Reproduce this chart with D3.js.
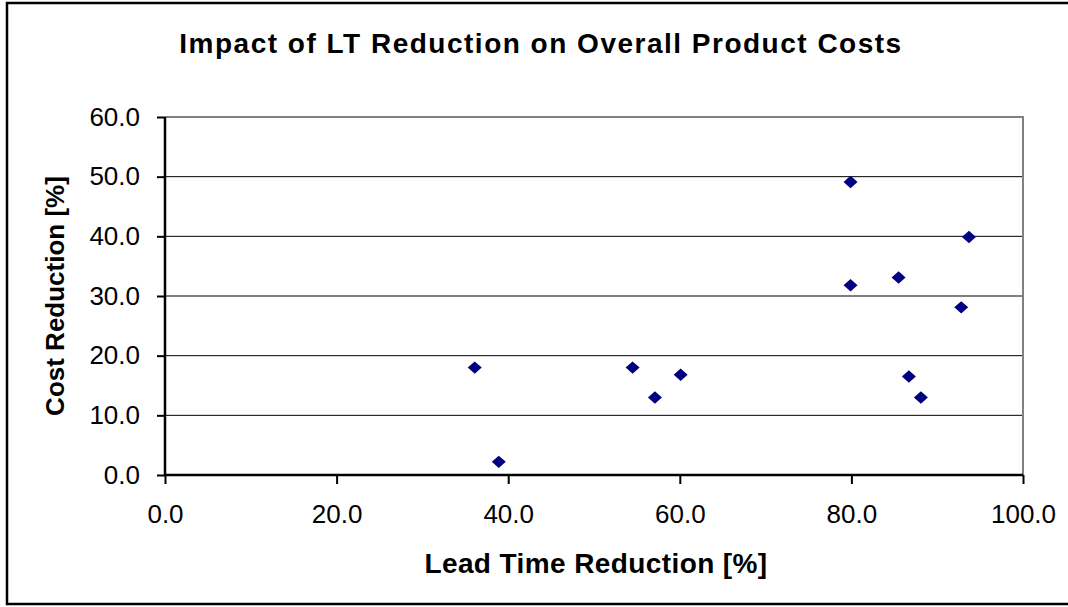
<!DOCTYPE html>
<html>
<head>
<meta charset="utf-8">
<script src="https://cdn.jsdelivr.net/npm/d3@7"></script>
<style>
  body { margin: 0; background: #fff; overflow: hidden; }
  text { font-family: "Liberation Sans", Arial, sans-serif; fill: #000; }
</style>
</head>
<body>
<div id="chart"></div>
<script>
// data
var leadTimeReduction = [36.1, 38.9, 54.5, 57.1, 60.1, 79.9, 79.9, 85.5, 86.7, 88.1, 92.8, 93.7];
var costReduction     = [18.0, 2.2, 18.0, 13.0, 16.8, 49.1, 31.8, 33.1, 16.5, 13.0, 28.1, 39.9];
var xTicks = [0, 20, 40, 60, 80, 100];
var yTicks = [0, 10, 20, 30, 40, 50, 60];

var svgWidth = 1068;
var svgHeight = 607;
var margin = {top: 117, right: 45, bottom: 132, left: 165};
var width = svgWidth - margin.left - margin.right;
var height = svgHeight - margin.top - margin.bottom;

var svg = d3.select('#chart').append('svg')
   .attr('width', svgWidth)
   .attr('height', svgHeight)
   .style('display', 'block');

// outer frame (right edge runs off the picture)
svg.append('rect')
   .attr('x', 7).attr('y', 3)
   .attr('width', 1080).attr('height', 601)
   .attr('fill', 'none').attr('stroke', '#000').attr('stroke-width', 2.5);

var chartGroup = svg.append('g')
   .attr('transform', `translate(${margin.left}, ${margin.top})`);

var x = d3.scaleLinear().domain([0, 100]).range([0, width]);
var y = d3.scaleLinear().domain([0, 60]).range([height, 0]);

// gridlines
chartGroup.selectAll('.grid').data(yTicks.filter(function(d) { return d > 0 && d < 60; }))
   .enter().append('line')
   .attr('x1', 0).attr('x2', width)
   .attr('y1', function(d) { return y(d); }).attr('y2', function(d) { return y(d); })
   .attr('stroke', '#000').attr('stroke-width', 1);

// plot frame top and right in grey
chartGroup.append('path')
   .attr('d', `M0,${y(60)}H${x(100)}V${y(0)}`)
   .attr('fill', 'none').attr('stroke', '#808080').attr('stroke-width', 2);

// axes
var bottomAxis = d3.axisBottom(x).tickValues(xTicks).tickFormat(d3.format('.1f')).tickSize(9).tickPadding(21);
var leftAxis = d3.axisLeft(y).tickValues(yTicks).tickFormat(d3.format('.1f')).tickSize(8).tickPadding(17);

var xg = chartGroup.append('g').attr('transform', `translate(0, ${height})`).call(bottomAxis);
var yg = chartGroup.append('g').call(leftAxis);

[xg, yg].forEach(function(g) {
   g.select('.domain').attr('stroke', '#000').attr('stroke-width', 2.5);
   g.selectAll('.tick line').attr('stroke', '#000').attr('stroke-width', 2);
   g.selectAll('.tick text')
      .style('font-family', '"Liberation Sans", Arial, sans-serif')
      .style('font-size', '26px').attr('fill', '#000');
});
// no outer tick stubs
xg.select('.domain').attr('d', `M0,0H${width}`);
yg.select('.domain').attr('d', `M0,${height}V0`);

// diamond markers
var diamond = {
   draw: function(ctx, size) {
      var w = 7, h = 6.2;
      ctx.moveTo(0, -h); ctx.lineTo(w, 0); ctx.lineTo(0, h); ctx.lineTo(-w, 0); ctx.closePath();
   }
};
chartGroup.selectAll('.pt').data(leadTimeReduction)
   .enter().append('path')
   .attr('d', d3.symbol().type(diamond))
   .attr('transform', function(d, i) { return `translate(${x(d)}, ${y(costReduction[i])})`; })
   .attr('fill', '#000080');

// titles
svg.append('text')
   .attr('x', 541).attr('y', 53)
   .attr('text-anchor', 'middle')
   .style('font-weight', 'bold').style('font-size', '28px').style('letter-spacing', '1.5px')
   .text('Impact of LT Reduction on Overall Product Costs');

svg.append('text')
   .attr('x', 596).attr('y', 573)
   .attr('text-anchor', 'middle')
   .style('font-weight', 'bold').style('font-size', '28px').style('letter-spacing', '0.4px')
   .text('Lead Time Reduction [%]');

svg.append('text')
   .attr('transform', 'translate(64, 296) rotate(-90)')
   .attr('text-anchor', 'middle')
   .style('font-weight', 'bold').style('font-size', '26px')
   .text('Cost Reduction [%]');
</script>
</body>
</html>
